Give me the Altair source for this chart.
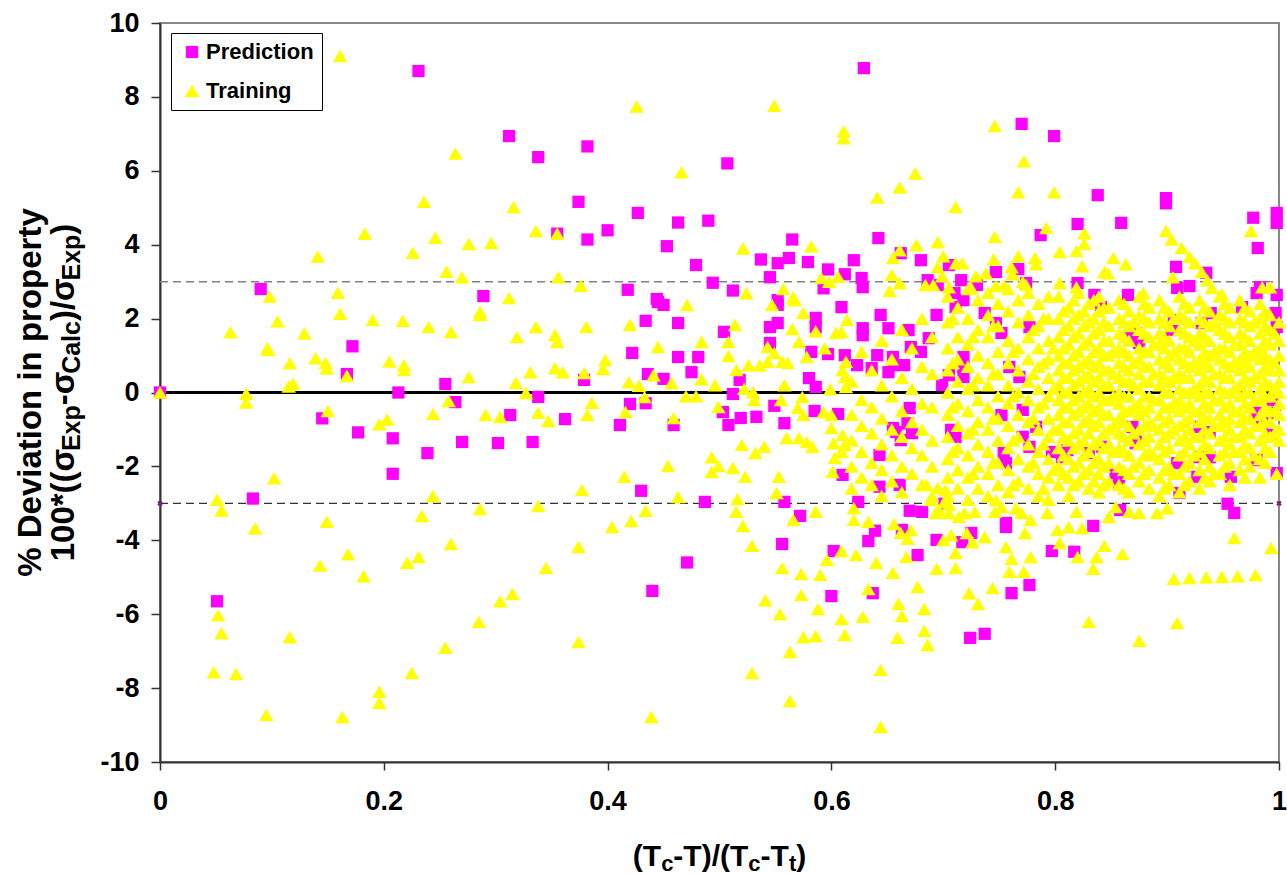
import altair as alt
import pandas as pd

# ---------------- data ----------------
# Prediction (magenta squares), x = (Tc-T)/(Tc-Tt), y = % deviation
pred_left = [
    (0.0, 0.0), (0.051, -5.65), (0.083, -2.87), (0.090, 2.8), (0.145, -0.7), (0.167, 0.5),
    (0.172, 1.25), (0.177, -1.08), (0.208, -1.24), (0.208, -2.2), (0.213, 0.0),
    (0.239, -1.64), (0.27, -1.34), (0.302, -1.37), (0.333, -1.34),
]
pred_mid = [
    (0.231, 8.7), (0.312, 6.94), (0.338, 6.37), (0.382, 6.66), (0.507, 6.2), (0.374, 5.16),
    (0.427, 4.86), (0.463, 4.6), (0.49, 4.65), (0.355, 4.3), (0.382, 4.14), (0.4, 4.39),
    (0.453, 3.96), (0.537, 3.6), (0.552, 3.5), (0.562, 3.64), (0.565, 4.14), (0.579, 3.53),
    (0.479, 3.45), (0.545, 3.12), (0.494, 2.97), (0.512, 2.76), (0.418, 2.78), (0.289, 2.61),
    (0.597, 3.33), (0.612, 3.2), (0.593, 2.82), (0.444, 2.53), (0.552, 2.5),
    (0.434, 1.94), (0.463, 1.88), (0.445, 2.45), (0.45, 2.37), (0.504, 1.64), (0.422, 1.07),
    (0.463, 0.96), (0.481, 0.96), (0.379, 0.34), (0.255, 0.23), (0.264, -0.26), (0.338, -0.12),
    (0.313, -0.61), (0.362, -0.72), (0.436, 0.5), (0.45, 0.37), (0.475, 0.55), (0.42, -0.31),
    (0.434, -0.29), (0.411, -0.88), (0.459, -0.88), (0.518, 0.34), (0.512, -0.04), (0.503, -0.53),
    (0.508, -0.88), (0.519, -0.69), (0.533, -0.66), (0.545, 1.77), (0.552, 1.88), (0.545, 1.34),
    (0.552, 2.37), (0.586, 2.02), (0.586, 1.77), (0.609, 2.31), (0.582, 1.1), (0.597, 1.04),
    (0.612, 1.01), (0.58, 0.39), (0.586, 0.15), (0.549, -0.36), (0.558, -0.83), (0.585, -0.5),
    (0.606, -0.58), (0.61, -2.23), (0.558, -2.96), (0.43, -2.66), (0.487, -2.96), (0.471, -4.6),
    (0.44, -5.37), (0.556, -4.1), (0.572, -3.34), (0.602, -4.29), (0.6, -5.51),
]
pred_right = [
    (0.629, 8.78), (0.77, 7.27), (0.799, 6.94), (0.838, 5.34), (0.899, 5.26), (0.899, 5.12),
    (0.977, 4.73), (0.998, 4.86), (0.998, 4.59), (0.82, 4.56), (0.859, 4.59), (0.981, 3.91),
    (0.935, 3.24), (0.908, 3.4), (0.787, 4.26), (0.767, 3.34), (0.747, 3.26), (0.774, 2.96),
    (0.82, 2.96), (0.662, 3.77), (0.642, 4.18), (0.62, 3.58), (0.68, 3.58), (0.705, 3.45),
    (0.686, 3.04), (0.695, 2.91), (0.627, 3.1), (0.628, 2.85), (0.716, 3.04), (0.73, 2.91),
    (0.71, 2.69), (0.835, 2.64), (0.865, 2.64), (0.909, 2.83), (0.92, 2.88), (0.98, 2.69),
    (0.983, 2.85), (0.998, 2.64),
    (0.644, 2.1), (0.651, 1.74), (0.628, 1.74), (0.628, 1.55), (0.669, 1.69), (0.671, 1.23),
    (0.68, 1.1), (0.687, 1.47), (0.694, 2.1), (0.641, 1.01), (0.655, 0.96), (0.656, 0.74),
    (0.665, 0.74), (0.623, 0.74), (0.636, 0.66), (0.651, 0.55), (0.699, 0.2), (0.711, 2.31),
    (0.718, 2.5), (0.737, 2.15), (0.747, 1.88), (0.752, 1.61), (0.718, 0.96), (0.718, 0.69),
    (0.718, 0.42), (0.705, 0.47), (0.759, 0.69), (0.768, 0.42), (0.771, -0.47), (0.752, -0.61),
    (0.67, -0.42), (0.668, -0.83), (0.672, -1.1), (0.662, -1.29), (0.655, -0.96), (0.658, -1.07),
    (0.643, -1.69), (0.643, -2.55), (0.661, -2.5), (0.707, -1.01), (0.711, -1.2), (0.756, -1.91),
    (0.754, -1.64), (0.797, -1.61), (0.806, -1.75), (0.811, -1.56), (0.83, -1.64), (0.854, -2.18),
    (0.857, -2.28), (0.872, -1.1), (0.872, -1.37), (0.909, -1.91), (0.911, -2.72), (0.929, -1.75),
    (0.938, -1.75), (0.927, -2.28), (0.957, -2.28), (0.98, -1.83), (0.993, -1.15), (0.997, 2.15),
    (0.998, 1.77), (0.967, 2.31), (0.939, 2.15), (0.931, 1.88), (0.904, 1.69), (0.906, 1.96),
    (0.866, 1.5), (0.875, 1.34), (0.872, 1.61), (0.841, 2.31), (0.777, 1.77), (0.996, -0.55),
    (0.994, -0.2), (0.98, -0.55), (0.985, -0.83), (0.929, -0.93), (0.938, -1.07), (0.869, -0.93),
    (0.842, -1.47), (0.857, -2.45), (0.771, -1.2), (0.777, -1.47), (0.783, -0.93),
    (0.624, -2.96), (0.67, -3.2), (0.681, -3.23), (0.639, -3.74), (0.633, -4.02), (0.637, -5.43),
    (0.663, -3.72), (0.677, -4.4), (0.694, -3.99), (0.701, -3.01), (0.725, -3.8), (0.717, -4.05),
    (0.756, -3.53), (0.756, -3.64), (0.777, -5.21), (0.761, -5.43), (0.797, -4.29), (0.834, -3.61),
    (0.817, -4.31), (0.858, -3.18), (0.954, -3.01), (0.96, -3.26), (0.998, -2.18), (0.724, -6.64),
    (0.737, -6.53),
]

# Training (yellow triangles)
train_left = [
    (0.0, 0.0), (0.161, 9.11), (0.183, 4.3), (0.141, 3.68), (0.159, 2.7), (0.098, 2.6),
    (0.063, 1.63), (0.105, 1.93), (0.096, 1.2), (0.097, 1.15), (0.129, 1.6), (0.161, 2.13),
    (0.19, 1.96), (0.139, 0.93), (0.116, 0.79), (0.148, 0.8), (0.149, 0.65), (0.167, 0.45),
    (0.115, 0.16), (0.119, 0.24), (0.205, 0.84), (0.077, -0.03), (0.077, -0.27), (0.15, -0.5),
    (0.196, -0.86), (0.203, -0.73), (0.102, -2.32), (0.051, -2.9), (0.055, -3.19), (0.085, -3.68),
    (0.149, -3.5), (0.168, -4.38), (0.143, -4.68), (0.182, -4.97), (0.052, -6.03), (0.055, -6.51),
    (0.048, -7.57), (0.068, -7.62), (0.116, -6.62), (0.095, -8.73), (0.163, -8.78), (0.196, -8.1),
    (0.196, -8.4),
]
train_mid = [
    (0.426, 7.74), (0.549, 7.76), (0.611, 7.07), (0.611, 6.88), (0.264, 6.47), (0.466, 5.96),
    (0.236, 5.16), (0.316, 5.02), (0.226, 3.78), (0.246, 4.19), (0.276, 4.02), (0.296, 4.05),
    (0.336, 4.37), (0.355, 4.3), (0.521, 3.9), (0.582, 3.96), (0.256, 3.27), (0.27, 3.12),
    (0.356, 3.12), (0.376, 2.89), (0.591, 3.1), (0.598, 3.0), (0.606, 3.13), (0.524, 2.69),
    (0.557, 2.8), (0.566, 2.58), (0.312, 2.56),
    (0.286, 2.18), (0.286, 2.1), (0.217, 1.94), (0.24, 1.77), (0.26, 1.64), (0.319, 1.5),
    (0.336, 1.77), (0.353, 1.56), (0.355, 1.37), (0.381, 1.77), (0.42, 1.83), (0.471, 2.37),
    (0.514, 1.83), (0.508, 1.37), (0.484, 1.37), (0.445, 1.23), (0.508, 0.99), (0.218, 0.74),
    (0.218, 0.61), (0.276, 0.42), (0.331, 0.55), (0.353, 0.66), (0.36, 0.55), (0.379, 0.53),
    (0.398, 0.88), (0.396, 0.64), (0.318, 0.26), (0.327, -0.01), (0.258, -0.23), (0.244, -0.58),
    (0.291, -0.61), (0.304, -0.66), (0.338, -0.55), (0.347, -0.77), (0.386, -0.28), (0.382, -0.61),
    (0.419, 0.28), (0.428, 0.18), (0.433, -0.12), (0.441, 0.47), (0.457, 0.26), (0.484, 0.36),
    (0.496, 0.2), (0.47, -0.1), (0.479, -0.1), (0.416, -0.53), (0.459, -0.69), (0.522, 0.1),
    (0.53, 0.01), (0.531, -0.2), (0.499, -0.39), (0.565, 1.72), (0.571, 1.37), (0.543, 1.23),
    (0.549, 1.07), (0.543, 0.83), (0.556, 0.83), (0.561, 0.8), (0.526, 0.74), (0.536, 0.74),
    (0.515, 0.61), (0.547, 2.37), (0.567, 2.5), (0.575, 2.15), (0.586, 1.66), (0.578, 0.96),
    (0.594, 1.2), (0.604, 1.61), (0.609, 1.64), (0.614, 1.96), (0.613, 0.83), (0.61, 0.61),
    (0.612, 0.42), (0.558, 0.2), (0.599, 0.09), (0.613, 0.15), (0.555, -0.2), (0.574, -0.12),
    (0.57, -0.42), (0.575, -0.61), (0.593, -0.53), (0.6, -0.61), (0.6, -0.96), (0.61, -1.15),
    (0.612, -1.42), (0.56, -1.23), (0.571, -1.23), (0.578, -1.34), (0.583, -1.47), (0.602, -1.37),
    (0.609, -1.61), (0.603, -1.77), (0.601, -2.15), (0.52, -1.42), (0.532, -1.64), (0.54, -1.47),
    (0.493, -1.75), (0.499, -1.99), (0.493, -2.15), (0.512, -2.04), (0.523, -2.28), (0.553, -2.28),
    (0.551, -2.72), (0.454, -1.99), (0.415, -2.28), (0.377, -2.64), (0.463, -2.83), (0.516, -2.88),
    (0.515, -3.23), (0.521, -3.61), (0.434, -3.2), (0.421, -3.48), (0.404, -3.64), (0.244, -2.8),
    (0.234, -3.34), (0.286, -3.15), (0.338, -3.07), (0.26, -4.1), (0.221, -4.61), (0.231, -4.45),
    (0.374, -4.18), (0.345, -4.75), (0.315, -5.45), (0.304, -5.65), (0.529, -4.15), (0.566, -3.45),
    (0.586, -3.23), (0.556, -4.75), (0.573, -4.91), (0.59, -4.94), (0.596, -4.53), (0.609, -4.29),
    (0.573, -5.48), (0.541, -5.62), (0.285, -6.21), (0.255, -6.91), (0.225, -7.59), (0.374, -6.75),
    (0.439, -8.78), (0.554, -6.0), (0.588, -5.86), (0.609, -6.13), (0.575, -6.62), (0.586, -6.59),
    (0.612, -6.56), (0.563, -7.02), (0.529, -7.59), (0.563, -8.35),
]
train_right_outer = [
    (0.746, 7.21), (0.772, 6.26), (0.675, 5.93), (0.661, 5.55), (0.641, 5.28), (0.767, 5.42),
    (0.799, 5.42), (0.711, 5.02), (0.975, 4.37), (0.899, 4.37), (0.904, 4.14), (0.913, 3.91),
    (0.92, 3.67), (0.925, 3.5), (0.931, 3.26), (0.936, 3.04), (0.905, 3.12), (0.826, 4.31),
    (0.826, 4.02), (0.819, 3.83), (0.792, 4.45), (0.804, 3.8), (0.824, 3.42), (0.852, 3.64),
    (0.863, 3.47), (0.844, 3.26), (0.847, 3.23), (0.746, 4.21), (0.745, 3.61), (0.767, 3.69),
    (0.782, 3.64), (0.783, 3.47), (0.761, 3.39), (0.762, 3.2), (0.771, 2.99), (0.774, 2.91),
    (0.804, 2.96), (0.819, 2.85), (0.695, 4.07), (0.676, 3.99), (0.661, 3.85), (0.655, 3.64),
    (0.7, 3.69), (0.711, 3.5), (0.717, 3.5), (0.695, 3.39), (0.699, 3.15), (0.684, 2.91),
    (0.691, 2.91), (0.705, 2.85), (0.654, 3.18), (0.661, 2.96), (0.652, 2.75), (0.729, 3.15),
    (0.738, 3.23), (0.725, 2.83), (0.747, 2.88), (0.754, 2.88), (0.879, 2.69), (0.94, 2.83),
    (0.949, 2.66), (0.985, 2.85), (0.992, 2.85),
    (0.998, -2.2), (0.62, -3.13), (0.62, -3.45), (0.633, -3.5), (0.622, -4.4), (0.64, -4.61),
    (0.655, -4.88), (0.633, -5.32), (0.656, -3.56), (0.662, -3.8), (0.668, -3.96), (0.671, -3.72),
    (0.667, -4.45), (0.677, -5.26), (0.694, -4.77), (0.711, -4.75), (0.711, -4.34), (0.7, -3.99),
    (0.707, -3.86), (0.693, -3.26), (0.696, -3.18), (0.705, -3.26), (0.714, -3.37), (0.705, -3.04),
    (0.701, -2.96), (0.685, -2.5), (0.695, -2.58), (0.702, -2.64), (0.689, -2.91), (0.719, -3.26),
    (0.728, -3.23), (0.721, -3.8), (0.726, -4.05), (0.737, -3.91), (0.723, -5.43), (0.744, -5.29),
    (0.756, -4.18), (0.761, -4.5), (0.759, -4.85), (0.746, -3.23), (0.752, -3.1), (0.747, -2.91),
    (0.765, -3.13), (0.77, -3.26), (0.778, -3.45), (0.773, -3.8), (0.772, -4.85), (0.778, -4.45),
    (0.793, -3.26), (0.802, -3.72), (0.804, -4.07), (0.812, -3.64), (0.824, -3.67), (0.819, -3.23),
    (0.844, -4.15), (0.837, -4.45), (0.834, -4.77), (0.82, -4.45), (0.86, -4.37), (0.848, -3.37),
    (0.854, -3.1), (0.866, -3.23), (0.875, -3.26), (0.891, -3.26), (0.9, -3.13), (0.96, -3.94),
    (0.993, -4.21), (0.906, -5.05), (0.92, -5.02), (0.935, -5.0), (0.949, -4.99), (0.963, -4.97),
    (0.979, -4.94), (0.66, -5.72), (0.663, -6.05), (0.683, -5.86), (0.731, -5.72), (0.628, -6.07),
    (0.659, -6.64), (0.683, -6.45), (0.686, -6.83), (0.644, -7.51), (0.644, -9.05), (0.83, -6.21),
    (0.875, -6.72), (0.909, -6.24),
]
# dense cloud of training points, read column by column (x: list of y)
train_dense = {
    0.618: [0.3, -0.6, -1.3, -2.0, -2.6],
    0.627: [1.1, -0.2, -0.9, -1.6, -2.3],
    0.636: [0.6, -0.4, -1.1, -1.9, -2.5],
    0.645: [1.4, 0.2, -0.7, -1.4, -2.1, -2.8],
    0.654: [0.9, -0.1, -1.0, -1.7, -2.4],
    0.663: [1.7, 0.4, -0.5, -1.2, -2.0, -2.7],
    0.672: [1.2, 0.1, -0.8, -1.5, -2.2],
    0.681: [2.0, 0.7, -0.3, -1.0, -1.7, -2.5],
    0.690: [1.5, 0.5, -0.4, -1.3, -2.0, -2.8],
    0.704: [2.6, 1.9, 1.2, 0.6, 0.0, -0.6, -1.2, -1.8, -2.3, -2.8],
    0.713: [2.3, 1.5, 0.9, 0.3, -0.3, -0.9, -1.5, -2.1, -2.6],
    0.722: [2.8, 2.0, 1.3, 0.7, 0.1, -0.5, -1.1, -1.7, -2.3, -2.9],
    0.731: [2.5, 1.7, 1.0, 0.4, -0.2, -0.8, -1.4, -2.0, -2.6],
    0.740: [2.7, 2.1, 1.5, 0.8, 0.2, -0.4, -1.0, -1.6, -2.2, -2.8],
    0.749: [2.4, 1.8, 1.1, 0.5, -0.1, -0.7, -1.3, -1.9, -2.5],
    0.758: [2.8, 2.2, 1.4, 0.8, 0.2, -0.3, -0.9, -1.5, -2.1, -2.7],
    0.767: [2.5, 1.9, 1.2, 0.6, 0.0, -0.6, -1.2, -1.8, -2.4],
    0.776: [2.7, 2.1, 1.5, 0.9, 0.3, -0.2, -0.8, -1.4, -2.0, -2.6],
    0.785: [2.4, 1.8, 1.2, 0.7, 0.1, -0.4, -1.0, -1.6, -2.2, -2.8],
    0.794: [2.6, 2.0, 1.4, 0.9, 0.4, -0.1, -0.7, -1.2, -1.8, -2.3, -2.9],
    0.803: [2.6, 2.0, 1.5, 1.0, 0.6, 0.2, -0.2, -0.6, -1.0, -1.5, -2.0, -2.5],
    0.812: [2.3, 1.8, 1.3, 0.8, 0.4, 0.0, -0.4, -0.8, -1.3, -1.8, -2.3, -2.8],
    0.821: [2.7, 2.1, 1.6, 1.1, 0.7, 0.3, -0.1, -0.5, -1.0, -1.4, -1.9, -2.4],
    0.830: [2.4, 1.9, 1.4, 0.9, 0.5, 0.1, -0.3, -0.7, -1.1, -1.6, -2.1, -2.6],
    0.839: [2.6, 2.2, 1.7, 1.2, 0.8, 0.4, 0.0, -0.4, -0.8, -1.3, -1.8, -2.2, -2.7],
    0.848: [2.3, 1.8, 1.4, 1.0, 0.6, 0.2, -0.2, -0.6, -1.0, -1.4, -1.9, -2.4],
    0.857: [2.5, 2.0, 1.6, 1.2, 0.8, 0.4, 0.0, -0.3, -0.7, -1.1, -1.5, -2.0, -2.5],
    0.866: [2.2, 1.8, 1.4, 1.0, 0.6, 0.3, -0.1, -0.5, -0.9, -1.3, -1.7, -2.2, -2.7],
    0.875: [2.6, 2.1, 1.7, 1.2, 0.9, 0.5, 0.1, -0.3, -0.6, -1.0, -1.4, -1.9, -2.4],
    0.884: [2.3, 1.9, 1.5, 1.1, 0.7, 0.3, -0.1, -0.4, -0.8, -1.2, -1.6, -2.1, -2.6],
    0.893: [2.5, 2.0, 1.6, 1.3, 0.9, 0.5, 0.2, -0.2, -0.6, -1.0, -1.4, -1.8, -2.3, -2.8],
    0.902: [2.2, 1.8, 1.4, 1.0, 0.7, 0.3, 0.0, -0.4, -0.7, -1.1, -1.5, -2.0, -2.5],
    0.911: [2.6, 2.1, 1.7, 1.2, 0.9, 0.5, 0.1, -0.2, -0.5, -0.9, -1.3, -1.7, -2.2, -2.7],
    0.920: [2.3, 1.9, 1.5, 1.1, 0.7, 0.4, 0.0, -0.3, -0.7, -1.0, -1.4, -1.9, -2.4],
    0.929: [2.5, 2.0, 1.6, 1.3, 0.9, 0.6, 0.2, -0.1, -0.5, -0.8, -1.2, -1.6, -2.1, -2.6],
    0.938: [2.2, 1.8, 1.4, 1.0, 0.7, 0.3, 0.0, -0.4, -0.7, -1.1, -1.5, -2.0, -2.4],
    0.947: [2.6, 2.1, 1.7, 1.2, 0.9, 0.5, 0.1, -0.2, -0.6, -0.9, -1.3, -1.7, -2.2],
    0.956: [2.3, 1.9, 1.5, 1.1, 0.7, 0.4, 0.0, -0.3, -0.7, -1.0, -1.4, -1.9, -2.5],
    0.965: [2.5, 2.0, 1.6, 1.3, 0.9, 0.6, 0.2, -0.1, -0.5, -0.8, -1.2, -1.6, -2.1],
    0.974: [2.2, 1.8, 1.4, 1.0, 0.7, 0.3, 0.0, -0.4, -0.7, -1.1, -1.5, -2.0],
    0.983: [2.4, 2.0, 1.6, 1.2, 0.9, 0.5, 0.1, -0.2, -0.6, -0.9, -1.3, -1.8, -2.3],
    0.992: [2.1, 1.7, 1.3, 0.9, 0.6, 0.2, -0.1, -0.5, -0.8, -1.2, -1.6],
    1.000: [1.9, 1.4, 1.0, 0.6, 0.3, 0.0, -0.3, -0.6, -1.0, -1.3],
}
# extra training points filling the core of the cloud (between the columns above)
train_core = {
    0.852: [1.1, 0.5, -0.1, -0.9, -1.6],
    0.870: [1.9, 0.8, 0.2, -0.4, -1.1, -2.0],
    0.888: [1.3, 0.5, -0.2, -0.9, -1.7],
    0.906: [2.0, 1.1, 0.4, -0.3, -1.0, -2.2],
    0.924: [1.4, 0.8, 0.1, -0.5, -1.2, -1.7],
    0.942: [1.9, 1.1, 0.5, -0.2, -0.9, -2.2],
    0.960: [1.3, 0.8, 0.1, -0.5, -1.2, -1.6],
    0.978: [1.9, 1.1, 0.4, -0.2, -0.9, -1.7],
    0.996: [1.6, 0.8, 0.1, -0.5, -1.1],
}
train_fill = {
    0.7085: [2.0, 0.8, -0.4, -1.6],
    0.7265: [1.5, 0.2, -1.0, -2.2],
    0.7445: [1.8, 0.5, -0.7, -1.9],
    0.7625: [1.1, -0.1, -1.3, -2.5],
    0.7805: [1.7, 0.5, -0.7, -1.9],
    0.7895: [2.0, 0.8, -0.3, -1.4, -2.6],
    0.7985: [1.2, 0.1, -1.0, -2.1],
    0.8075: [2.2, 1.7, 1.2, 0.8, 0.4, 0.0, -0.4, -0.8, -1.2, -1.7, -2.2],
    0.8165: [2.5, 2.0, 1.5, 1.0, 0.6, 0.2, -0.2, -0.6, -1.1, -1.5, -2.0, -2.5],
    0.8255: [2.2, 1.8, 1.3, 0.8, 0.4, 0.0, -0.4, -0.8, -1.3, -1.7, -2.2],
    0.8345: [2.5, 2.0, 1.6, 1.1, 0.7, 0.3, -0.1, -0.5, -0.9, -1.4, -1.9, -2.4],
    0.8435: [2.3, 1.9, 1.4, 1.0, 0.6, 0.2, -0.2, -0.6, -1.1, -1.5, -2.0, -2.5],
    0.8615: [2.4, 1.9, 1.5, 1.1, 0.7, 0.3, -0.1, -0.5, -0.8, -1.2, -1.6, -2.1, -2.6],
    0.8795: [2.4, 2.0, 1.6, 1.1, 0.7, 0.3, -0.1, -0.5, -0.9, -1.3, -1.7, -2.2],
    0.8975: [2.3, 1.9, 1.5, 1.2, 0.8, 0.4, 0.0, -0.4, -0.8, -1.2, -1.6, -2.1, -2.6],
    0.9155: [2.4, 2.0, 1.6, 1.2, 0.8, 0.4, 0.0, -0.4, -0.8, -1.2, -1.6, -2.0, -2.5],
    0.9335: [2.3, 1.9, 1.5, 1.1, 0.8, 0.4, 0.0, -0.3, -0.7, -1.0, -1.4, -1.8, -2.3],
    0.9515: [2.4, 2.0, 1.6, 1.2, 0.8, 0.4, 0.0, -0.4, -0.8, -1.2, -1.6, -2.0],
    0.9695: [2.3, 1.9, 1.5, 1.1, 0.8, 0.4, 0.0, -0.3, -0.7, -1.0, -1.4, -1.8, -2.3],
    0.9875: [2.2, 1.8, 1.4, 1.0, 0.7, 0.3, -0.1, -0.4, -0.8, -1.1, -1.5, -1.9],
}

series_names = ["Prediction", "Training"]
series_colors = ["#FF00FF", "#FFFF00"]
series_shapes = ["square", "triangle-up"]
series_sizes = [150, 210]
x_ticks = [0, 0.2, 0.4, 0.6, 0.8, 1]
y_ticks = [-10, -8, -6, -4, -2, 0, 2, 4, 6, 8, 10]
band_levels = [3, -3]

# ---------------- table ----------------
rows = []
for grp in (pred_left, pred_mid, pred_right):
    for x, y in grp:
        rows.append({"x": x, "y": y, "series": "Prediction"})
for grp in (train_left, train_mid, train_right_outer):
    for x, y in grp:
        rows.append({"x": x, "y": y, "series": "Training"})
for cols in (train_dense, train_core, train_fill):
    for x, ys in cols.items():
        for y in ys:
            rows.append({"x": x, "y": y, "series": "Training"})
df = pd.DataFrame(rows)

FONT = "Liberation Sans"
W, H = 1119, 739

xscale = alt.Scale(domain=[0, 1], nice=False, zero=False)
yscale = alt.Scale(domain=[-10, 10], nice=False, zero=False)

axis_common = dict(
    title=None, grid=False, labelFont=FONT, labelFontSize=27, labelFontWeight="bold",
    labelColor="black", domainColor="#333333", domainWidth=2, tickColor="#333333",
    tickWidth=1.5, labelExpr="datum.value", labelFlush=False,
)
xaxis = alt.Axis(values=x_ticks, tickSize=8, labelPadding=18, **axis_common)
yaxis = alt.Axis(values=y_ticks, tickSize=9, labelPadding=12, **axis_common)

leg = alt.Legend(
    title=None, orient="none", legendX=11, legendY=10, fillColor="white",
    strokeColor="black", padding=8, cornerRadius=0,
    labelFont=FONT, labelFontSize=22, labelFontWeight="bold", labelColor="black",
    symbolSize=140, symbolStrokeWidth=0, rowPadding=17, labelOffset=3, symbolOffset=2,
)

points = alt.Chart(df).mark_point(filled=True, opacity=1, strokeWidth=0).encode(
    x=alt.X("x:Q", scale=xscale, axis=xaxis),
    y=alt.Y("y:Q", scale=yscale, axis=yaxis),
    color=alt.Color("series:N", scale=alt.Scale(domain=series_names, range=series_colors), legend=leg),
    shape=alt.Shape("series:N", scale=alt.Scale(domain=series_names, range=series_shapes), legend=leg),
    size=alt.Size("series:N", scale=alt.Scale(domain=series_names, range=series_sizes), legend=None),
)

upper = alt.Chart(pd.DataFrame({"y": [band_levels[0]]})).mark_rule(
    color="#808080", strokeWidth=1.5, strokeDash=[8, 5]
).encode(x=alt.datum(0), x2=alt.datum(1), y="y:Q")
lower = alt.Chart(pd.DataFrame({"y": [band_levels[1]]})).mark_rule(
    color="#333333", strokeWidth=1.3, strokeDash=[8, 5]
).encode(x=alt.datum(0), x2=alt.datum(1), y="y:Q")
zero = alt.Chart(pd.DataFrame({"y": [0]})).mark_rule(color="black", strokeWidth=3).encode(
    x=alt.datum(0), x2=alt.datum(1), y="y:Q"
)
ends = alt.Chart(pd.DataFrame({"x": [0, 1], "y": [band_levels[1]] * 2})).mark_point(
    shape="cross", angle=45, filled=True, size=30, color="#7a1f7a", opacity=1
).encode(x="x:Q", y="y:Q")

# ---------------- titles with subscripts (Arial/Liberation Bold advance widths) ----------------
ADV = {' ': 278, '%': 889, '(': 333, ')': 333, '*': 389, '-': 333, '/': 278, '0': 556, '1': 556,
       'C': 722, 'D': 722, 'E': 667, 'T': 611, 'a': 556, 'c': 556, 'e': 556, 'i': 278, 'l': 278,
       'n': 611, 'o': 611, 'p': 611, 'r': 389, 't': 333, 'v': 556, 'x': 556, 'y': 556, 'σ': 617}


def twidth(s, fs):
    return sum(ADV.get(ch, 556) for ch in s) * fs / 1000.0


def text_layer(s, px, py, fs, angle=0, align="left"):
    return alt.Chart(pd.DataFrame({"t": [s]})).mark_text(
        font=FONT, fontWeight="bold", fontSize=fs, color="black", align=align,
        baseline="alphabetic", angle=angle, x=px, y=py
    ).encode(text="t:N")


titles = []
# x title: (Tc-T)/(Tc-Tt)
xf, xs = 30, 22
xsegs = [("(T", 0), ("c", 1), ("-T)/(T", 0), ("c", 1), ("-T", 0), ("t", 1), (")", 0)]
tot = sum(twidth(s, xs if sub else xf) for s, sub in xsegs)
cx = 559.5 - tot / 2
for s, sub in xsegs:
    fs = xs if sub else xf
    titles.append(text_layer(s, cx, 843 + (5 if sub else 0), fs))
    cx += twidth(s, fs)

# y title line 1
titles.append(text_layer("% Deviation in property", -119, 369.5, 33, angle=270, align="center"))
# y title line 2 with subscripts
yf, ys_ = 33, 25
ysegs = [("100*((σ", 0), ("Exp", 1), ("-σ", 0), ("Calc", 1), (")/σ", 0), ("Exp", 1), (")", 0)]
tot = sum(twidth(s, ys_ if sub else yf) for s, sub in ysegs)
cy = 369.5 + tot / 2
for s, sub in ysegs:
    fs = ys_ if sub else yf
    titles.append(text_layer(s, -86 + (6 if sub else 0), cy, fs, angle=270))
    cy -= twidth(s, fs)

chart = alt.layer(upper, lower, zero, points, ends, *titles).properties(
    width=W, height=H,
    autosize=alt.AutoSizeParams(type="none"),
    padding={"left": 160, "top": 23, "right": 8, "bottom": 113},
).configure_view(stroke="#888888", strokeWidth=2)

chart.save("out.html", embed_options={"renderer": "svg", "actions": False})
